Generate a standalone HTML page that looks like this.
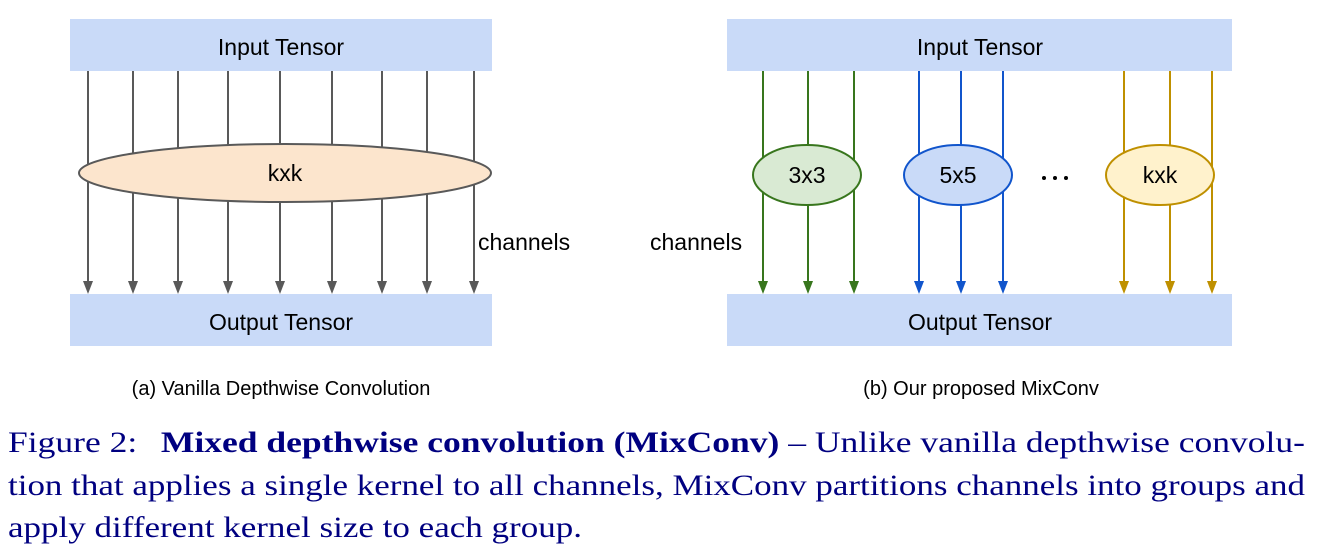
<!DOCTYPE html>
<html><head><meta charset="utf-8"><style>
html,body{margin:0;padding:0;background:#fff;}
svg{display:block}
.sans{font-family:"Liberation Sans",Arial,sans-serif;}
.serif{font-family:"Liberation Serif","Times New Roman",serif;}
</style></head><body>
<svg width="1321" height="551" viewBox="0 0 1321 551" xmlns="http://www.w3.org/2000/svg">
<g class="sans" font-size="23" fill="#000">
<!-- Left -->
<rect x="70" y="19" width="422" height="52" fill="#c9daf8"/>
<rect x="70" y="294" width="422" height="52" fill="#c9daf8"/>
<g stroke="#595959" stroke-width="2">
<line x1="88" y1="71" x2="88" y2="284"/><line x1="133" y1="71" x2="133" y2="284"/><line x1="178" y1="71" x2="178" y2="284"/>
<line x1="228" y1="71" x2="228" y2="284"/><line x1="280" y1="71" x2="280" y2="284"/><line x1="332" y1="71" x2="332" y2="284"/>
<line x1="382" y1="71" x2="382" y2="284"/><line x1="427" y1="71" x2="427" y2="284"/><line x1="474" y1="71" x2="474" y2="284"/>
</g>
<g fill="#595959">
<path d="M83,281h10l-5,13z"/><path d="M128,281h10l-5,13z"/><path d="M173,281h10l-5,13z"/><path d="M223,281h10l-5,13z"/><path d="M275,281h10l-5,13z"/><path d="M327,281h10l-5,13z"/><path d="M377,281h10l-5,13z"/><path d="M422,281h10l-5,13z"/><path d="M469,281h10l-5,13z"/>
</g>
<ellipse cx="285" cy="173" rx="206" ry="29" fill="#fce5cd" stroke="#595959" stroke-width="2"/>
<text x="285" y="181" text-anchor="middle">kxk</text>
<text x="281" y="55" text-anchor="middle">Input Tensor</text>
<text x="281" y="330" text-anchor="middle">Output Tensor</text>
<text x="478" y="250">channels</text>
<text x="281" y="395" text-anchor="middle" font-size="20">(a) Vanilla Depthwise Convolution</text>
<!-- Right -->
<rect x="727" y="19" width="505" height="52" fill="#c9daf8"/>
<rect x="727" y="294" width="505" height="52" fill="#c9daf8"/>
<g stroke-width="2">
<g stroke="#38761d"><line x1="763" y1="71" x2="763" y2="284"/><line x1="808" y1="71" x2="808" y2="284"/><line x1="854" y1="71" x2="854" y2="284"/></g>
<g stroke="#1155cc"><line x1="919" y1="71" x2="919" y2="284"/><line x1="961" y1="71" x2="961" y2="284"/><line x1="1003" y1="71" x2="1003" y2="284"/></g>
<g stroke="#bf9000"><line x1="1124" y1="71" x2="1124" y2="284"/><line x1="1170" y1="71" x2="1170" y2="284"/><line x1="1212" y1="71" x2="1212" y2="284"/></g>
</g>
<g fill="#38761d"><path d="M758,281h10l-5,13z"/><path d="M803,281h10l-5,13z"/><path d="M849,281h10l-5,13z"/></g>
<g fill="#1155cc"><path d="M914,281h10l-5,13z"/><path d="M956,281h10l-5,13z"/><path d="M998,281h10l-5,13z"/></g>
<g fill="#bf9000"><path d="M1119,281h10l-5,13z"/><path d="M1165,281h10l-5,13z"/><path d="M1207,281h10l-5,13z"/></g>
<ellipse cx="807" cy="175" rx="54" ry="30" fill="#d9ead3" stroke="#38761d" stroke-width="2"/>
<ellipse cx="958" cy="175" rx="54" ry="30" fill="#c9daf8" stroke="#1155cc" stroke-width="2"/>
<ellipse cx="1160" cy="175" rx="54" ry="30" fill="#fff2cc" stroke="#bf9000" stroke-width="2"/>
<text x="807" y="183" text-anchor="middle">3x3</text>
<text x="958" y="183" text-anchor="middle">5x5</text>
<text x="1160" y="183" text-anchor="middle">kxk</text>
<g fill="#000"><circle cx="1044" cy="178" r="2"/><circle cx="1055" cy="178" r="2"/><circle cx="1066" cy="178" r="2"/></g>
<text x="980" y="55" text-anchor="middle">Input Tensor</text>
<text x="980" y="330" text-anchor="middle">Output Tensor</text>
<text x="650" y="250">channels</text>
<text x="981" y="395" text-anchor="middle" font-size="20">(b) Our proposed MixConv</text>
</g>
<g class="serif" font-size="30" fill="#000080">
<text x="8" y="452" textLength="1297" lengthAdjust="spacingAndGlyphs">Figure 2:<tspan dx="20" font-weight="bold">Mixed depthwise convolution (MixConv)</tspan> – Unlike vanilla depthwise convolu-</text>
<text x="8" y="495" textLength="1297" lengthAdjust="spacingAndGlyphs">tion that applies a single kernel to all channels, MixConv partitions channels into groups and</text>
<text x="8" y="537" textLength="574" lengthAdjust="spacingAndGlyphs">apply different kernel size to each group.</text>
</g>
</svg>
</body></html>
